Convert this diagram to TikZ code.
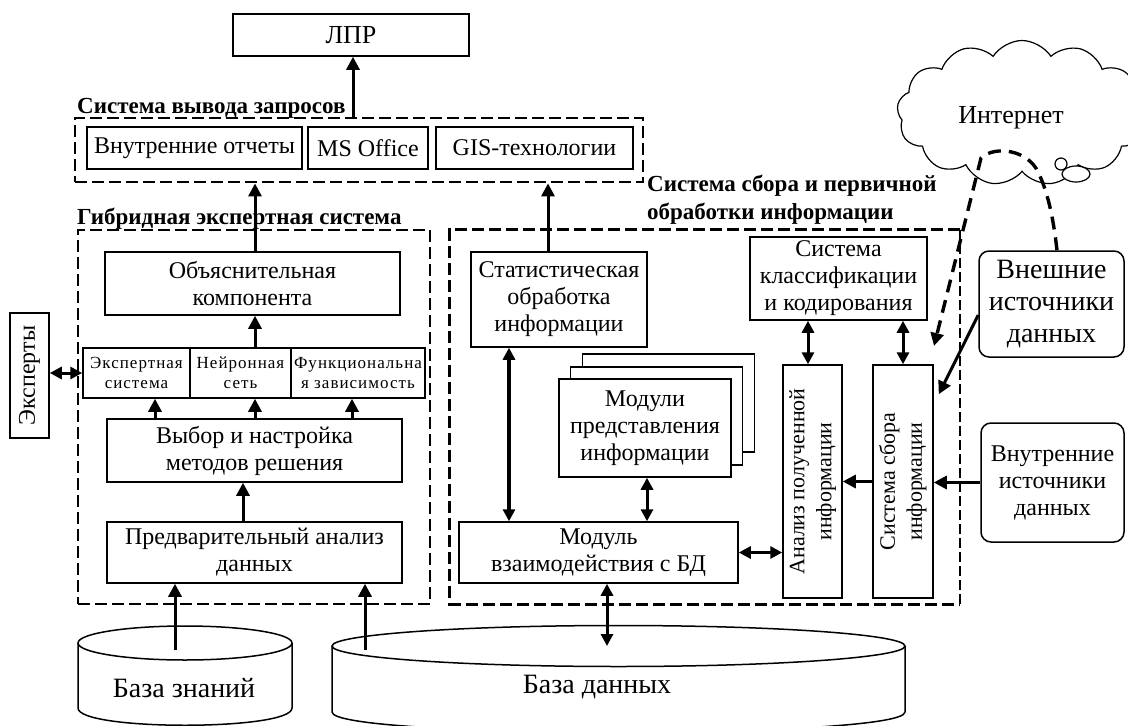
\documentclass[tikz,border=0pt]{standalone}
\usepackage{fontspec}
\usepackage{graphicx}
\setmainfont{Liberation Serif}
\newfontfamily\widefam{Liberation Serif}[LetterSpace=6]
\usetikzlibrary{arrows.meta,calc,shapes.symbols}
\newcommand\txtmain{\fontsize{24}{27}\selectfont}
\newcommand\txttop{\fontsize{26}{29}\selectfont}
\newcommand\txtside{\fontsize{22}{27}\selectfont}
\newcommand\txtbig{\fontsize{28}{32}\selectfont}
\newcommand\txtstore{\fontsize{28}{32}\selectfont}
\newcommand\txtsmall{\widefam\fontsize{17}{20}\selectfont}
\newcommand\txtlabel{\fontsize{23}{28}\selectfont\bfseries}
\newcommand\vtext[1]{\rotatebox{90}{\txtside\begin{tabular}{@{}c@{}}#1\end{tabular}}}
\begin{document}
\begin{tikzpicture}[x=1pt,y=-1pt,
  box/.style={draw, line width=1.5pt, fill=white, align=center, inner sep=0pt, font=\txtmain},
  rbox/.style={box, rounded corners=10pt},
  frame/.style={draw, line width=2.8pt, dash pattern=on 12pt off 5pt, inner sep=0pt},
  dashthick/.style={line width=2.8pt, dash pattern=on 12pt off 5pt},
  dashthin/.style={line width=1.5pt, dash pattern=on 10pt off 4pt},
  netline/.style={line width=3.4pt, dash pattern=on 13pt off 8pt},
  tip/.style={-{Triangle[length=13pt,width=13pt]}},
  both/.style={{Triangle[length=12pt,width=12pt]}-{Triangle[length=12pt,width=12pt]}},
  conn/.style={line width=3pt},
  heavy/.style={line width=4.6pt},
  lbl/.style={font=\txtlabel, inner sep=0pt, align=left},
  cyl/.style={line width=1.5pt},
  plain/.style={inner sep=0pt},
]
\path[use as bounding box] (0,0) rectangle (1128,726);
\clip (0,0) rectangle (1128,726);

% ---------- query output system ----------
\node[box, font=\txttop, minimum width=236, minimum height=42] (lpr) at (351,35) {ЛПР};
\node[frame, minimum width=568, minimum height=64] (qf) at (359,150) {};
\node[lbl, anchor=base west] (lq) at (77,113) {Система вывода запросов};
\node[box, minimum width=215, minimum height=42] (rep) at (194.5,148) {Внутренние отчеты};
\node[box, minimum width=120, minimum height=42] (mso) at (368,148) {MS Office};
\node[box, minimum width=197, minimum height=42] (gis) at (534.5,148) {GIS-технологии};
\draw[conn,tip] ([xshift=2]lpr.south |- qf.north) -- ([xshift=2]lpr.south);

% ---------- hybrid expert system ----------
\node[frame, minimum width=352, minimum height=374] (lf) at (254,417) {};
\node[lbl, anchor=base west] (ll) at (77,224) {Гибридная экспертная система};
\node[box, minimum width=295, minimum height=63] (obj) at (252.5,283.5) {Объяснительная\\компонента};
\node[box, font=\txtsmall, minimum width=107, minimum height=50] (es) at (136.5,373) {Экспертная\\система};
\node[box, font=\txtsmall, minimum width=101, minimum height=50] (ns) at (240.5,373) {Нейронная\\сеть};
\node[box, font=\txtsmall, minimum width=134, minimum height=50] (fz) at (358,373) {Функциональна\\я зависимость};
\node[box, minimum width=39, minimum height=125] (exp) at (29.5,375.5) {\rotatebox{90}{Эксперты}};
\node[box, minimum width=295, minimum height=63] (vyb) at (254.5,450.5) {Выбор и настройка\\методов решения};
\node[box, minimum width=295, minimum height=61] (pred) at (254.5,552.5) {Предварительный анализ\\данных};

\draw[conn,tip] ([xshift=2.5]obj.north) -- ([xshift=2.5]obj.north |- qf.south);
\draw[conn,tip] ([xshift=2.5]obj.south |- ns.north) -- ([xshift=2.5]obj.south);
\draw[conn,tip] ([xshift=18.5]es.south |- vyb.north) -- ([xshift=18.5]es.south);
\draw[conn,tip] ([xshift=14.5]ns.south |- vyb.north) -- ([xshift=14.5]ns.south);
\draw[conn,tip] ([xshift=-6]fz.south |- vyb.north) -- ([xshift=-6]fz.south);
\draw[conn,tip] ([xshift=-11.5]vyb.south |- pred.north) -- ([xshift=-11.5]vyb.south);
\draw[conn,both] (es.west -| exp.east) -- (es.west);

% ---------- collection and primary processing ----------
\node[minimum width=510, minimum height=374, inner sep=0pt] (rf) at (705,417) {};
\draw[dashthick] (rf.north east) -- (rf.north west) -- (rf.south west) -- (rf.south east);
\draw[dashthin] (rf.south east) -- (rf.north east);
\node[lbl, anchor=north west] (rl) at (647,175) {Система сбора и первичной\\обработки информации};

\node[box, minimum width=176, minimum height=95] (stat) at (559,299.5) {Статистическая\\обработка\\информации};
\node[box, minimum width=172, minimum height=98] (modc) at (668.5,403) {};
\node[box, minimum width=172, minimum height=98] (modb) at (656.5,416) {};
\node[box, minimum width=172, minimum height=98] (moda) at (645,428) {Модули\\представления\\информации};
\node[box, minimum width=279, minimum height=61] (mvz) at (598.5,552.5) {Модуль\\взаимодействия с БД};
\node[box, minimum width=177, minimum height=83] (skk) at (838.5,278.5) {Система\\классификации\\и кодирования};
\node[box, minimum width=59, minimum height=233] (anal) at (812.5,481.5) {\vtext{Анализ полученной\\информации}};
\node[box, minimum width=60, minimum height=233] (ssi) at (903,481.5) {\vtext{Система сбора\\информации}};
\node[rbox, font=\txtbig, minimum width=145, minimum height=106] (vnesh) at (1051.5,304) {Внешние\\источники\\данных};
\node[rbox, minimum width=143, minimum height=119] (vnutr) at (1052.5,482.5) {Внутренние\\источники\\данных};

\draw[conn,tip] ([xshift=-11]stat.north) -- ([xshift=-11]stat.north |- qf.south);
\draw[heavy,both] ([xshift=-50]stat.south) -- ([xshift=-50]stat.south |- mvz.north);
\draw[conn,both] ([xshift=2]moda.south) -- ([xshift=2]moda.south |- mvz.north);
\draw[conn,both] (mvz.east) -- (mvz.east -| anal.west);
\draw[conn,both] ([xshift=-4.5]anal.north |- skk.south) -- ([xshift=-4.5]anal.north);
\draw[conn,both] (ssi.north |- skk.south) -- (ssi.north);
\draw[conn,tip] (ssi.west) -- (anal.east);
\draw[conn,tip] (vnutr.west) -- (vnutr.west -| ssi.east);
\draw[conn,tip] ([yshift=-11]vnesh.west) -- ([xshift=5,yshift=-30]ssi.north east);

% ---------- internet cloud ----------
\node[cloud, draw, fill=white, line width=1.2pt, cloud puffs=13, cloud puff arc=115, aspect=1.7,
  minimum width=250, minimum height=145, inner sep=0pt] (inet) at (1022,113) {};
\node[plain, font=\txttop] (inettxt) at (1011,118) {Интернет};
\draw[line width=1.2pt, fill=white] (1076,174) ellipse[x radius=14, y radius=8];
\draw[line width=1.2pt] (1061,164) circle[radius=6];

\coordinate (netend) at (934,346);
\draw[netline,tip] ([xshift=5.5]vnesh.north) .. controls (1053,215) and (1047,190) .. (1038,172)
  .. controls (1028,150) and (995,145) .. (981,158) -- (netend);

% ---------- storages ----------
\draw[cyl, fill=white] (78,643) -- (78,708) .. controls (78,731) and (292,731) .. (292,708) -- (292,643);
\draw[cyl, fill=white] (185,643) ellipse[x radius=107, y radius=17];
\node[plain, font=\txtstore] (bz) at (184,688) {База знаний};

\draw[cyl, fill=white] (332,646) -- (332,712) .. controls (332,739) and (905,739) .. (905,712) -- (905,646);
\draw[cyl, fill=white] (618.5,646) ellipse[x radius=286.5, y radius=20.5];
\node[plain, font=\txtstore] (bd) at (597,687) {База данных};

\coordinate (bzin) at (175,650);
\coordinate (bdin1) at (365,650);
\coordinate (bdin2) at (607,646);
\draw[conn,tip] (bzin) -- (bzin |- pred.south);
\draw[conn,tip] (bdin1) -- (bdin1 |- pred.south);
\draw[conn,both] ([xshift=8.5]mvz.south) -- (bdin2);
\end{tikzpicture}
\end{document}
